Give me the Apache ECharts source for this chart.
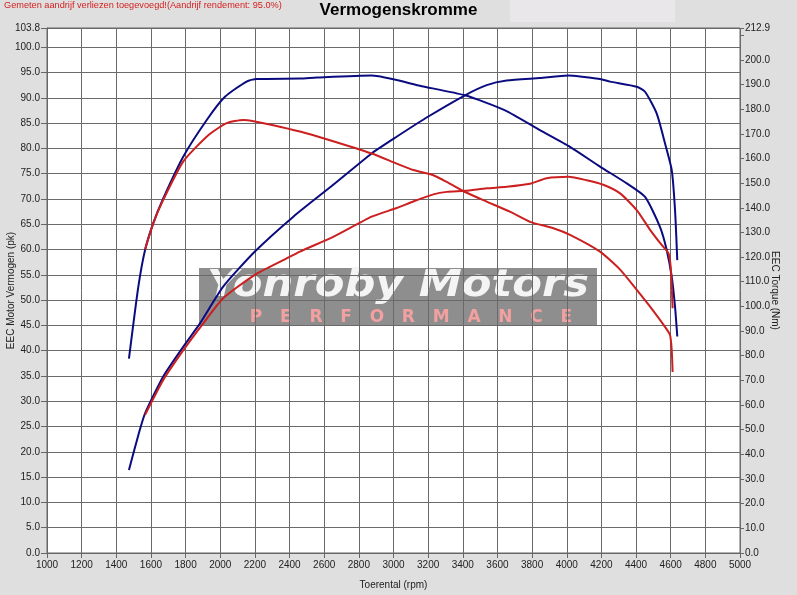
<!DOCTYPE html>
<html><head><meta charset="utf-8">
<script src="https://cdn.jsdelivr.net/npm/echarts@6/dist/echarts.min.js"></script>
<style>html,body{margin:0;padding:0;background:#dfdfdf}#c{width:797px;height:595px}</style>
</head><body><div id="c"></div>
<script>
// Blue torque (Nm, right axis)
const blueTorqueRpm = [1473,1527,1566,1613,1671,1787,1922,2027,2152,2210,2460,2557,2874,3163,3413,3644,3845,4019,4192,4346,4452,4538,4577,4606,4625,4638];
const blueTorqueNm  = [78.8,107.9,122.9,133.7,143.8,160.8,175.6,185.0,191.2,192.2,192.4,192.8,193.6,189.3,185.6,179.5,171.5,164.7,156.7,149.9,144.4,132.3,122.9,112.0,99.9,87.8];
// Blue power (pk, left axis)
const bluePowerRpm = [1473,1527,1566,1671,1787,1883,2018,2200,2422,2652,2874,3018,3201,3413,3538,3653,3845,4009,4192,4250,4404,4452,4519,4567,4606,4625,4638];
const bluePowerPk  = [16.4,23.3,27.6,34.9,40.8,45.4,52.7,59.6,66.5,72.8,79.0,82.3,86.3,90.5,92.5,93.4,93.9,94.4,93.7,93.2,92.2,91.2,86.9,81.0,75.7,67.8,57.9];
// Red torque (Nm, right axis)
const redTorqueRpm = [1566,1613,1671,1787,1931,2037,2133,2200,2306,2460,2614,2874,3018,3114,3230,3307,3413,3538,3672,3788,3923,4019,4192,4308,4404,4481,4567,4596,4606,4611];
const redTorqueNm  = [123.1,133.7,143.2,158.8,169.4,174.3,175.6,175.0,173.5,170.9,167.8,162.0,157.9,155.3,153.2,150.5,146.4,142.5,138.4,134.3,131.7,129.0,122.2,114.9,106.7,99.9,91.7,88.4,82.2,73.4];
// Red power (pk, left axis)
const redPowerRpm = [1566,1671,1787,1902,2018,2200,2364,2460,2652,2874,3018,3114,3230,3307,3413,3538,3653,3788,3884,4009,4115,4211,4308,4404,4481,4548,4587,4600,4606,4611];
const redPowerPk  = [27.3,34.2,40.1,45.4,50.4,55.0,57.9,59.6,62.5,66.5,68.2,69.5,70.9,71.4,71.6,72.1,72.4,73.0,74.1,74.4,73.7,72.8,71.1,67.8,63.9,60.9,59.3,56.6,52.7,48.4];

const xMin = 1000, xMax = 5000, xStep = 200;
const leftMax = 103.8, leftStep = 5;
const rightMax = 212.9, rightStep = 10;

const zip = (a, b) => a.map((v, i) => [v, b[i]]);
const BLUE = '#0b0b80', RED = '#cc1f1f';
const font = 'Liberation Sans, Arial, sans-serif';

const chart = echarts.init(document.getElementById('c'), null, {renderer: 'canvas'});
const lineSeries = (name, data, color, yIdx) => ({
  name, type: 'line', data, yAxisIndex: yIdx, showSymbol: false, symbol: 'none',
  smooth: 0.2, z: 5,
  lineStyle: {color, width: 2}
});
chart.setOption({
  backgroundColor: '#dfdfdf',
  animation: false,
  title: [{
    text: 'Vermogenskromme', left: 'center', top: 2, padding: 0,
    textStyle: {fontFamily: font, fontSize: 17, fontWeight: 'bold', color: '#000'}
  }, {
    text: 'Gemeten aandrijf verliezen toegevoegd!(Aandrijf rendement: 95.0%)', left: 4, top: 1, padding: 0,
    textStyle: {fontFamily: font, fontSize: 9.2, fontWeight: 'normal', color: '#d42020'}
  }],
  grid: {left: 47, right: 57, top: 28, bottom: 42, containLabel: false, outerBoundsMode: 'none',
    show: true, backgroundColor: '#fff', borderColor: '#666', borderWidth: 1},
  xAxis: {
    type: 'value', min: xMin, max: xMax, interval: xStep,
    name: 'Toerental (rpm)', nameLocation: 'middle', nameGap: 27, nameMoveOverlap: false,
    nameTextStyle: {fontFamily: font, fontSize: 10, color: '#222'},
    axisLine: {show: true, lineStyle: {color: '#666'}},
    axisTick: {show: true, length: 5, lineStyle: {color: '#666'}},
    axisLabel: {fontFamily: font, fontSize: 10, color: '#222', margin: 7, formatter: v => String(v)},
    splitLine: {show: true, lineStyle: {color: '#6a6a6a', width: 1}}
  },
  yAxis: [{
    type: 'value', min: 0, max: leftMax, interval: leftStep, position: 'left',
    name: 'EEC Motor Vermogen (pk)', nameLocation: 'middle', nameGap: 31, nameRotate: 90, nameMoveOverlap: false,
    nameTextStyle: {fontFamily: font, fontSize: 10, color: '#222'},
    axisLine: {show: true, lineStyle: {color: '#666'}},
    axisTick: {show: true, length: 6, lineStyle: {color: '#666'}},
    axisLabel: {fontFamily: font, fontSize: 10, color: '#222', margin: 7, showMaxLabel: true,
      formatter: v => v.toFixed(1)},
    splitLine: {show: true, lineStyle: {color: '#6a6a6a', width: 1}}
  }, {
    type: 'value', min: 0, max: rightMax, interval: rightStep, position: 'right',
    name: 'EEC Torque (Nm)', nameLocation: 'middle', nameGap: 30, nameRotate: -90, nameMoveOverlap: false,
    nameTextStyle: {fontFamily: font, fontSize: 10, color: '#222'},
    axisLine: {show: false},
    axisTick: {show: true, length: 4, lineStyle: {color: '#666'}},
    axisLabel: {fontFamily: font, fontSize: 10, color: '#222', margin: 5, showMaxLabel: true,
      formatter: v => (Math.abs(v - 210) < 0.01 ? '' : v.toFixed(1))},
    splitLine: {show: false}
  }],
  graphic: [
    {type: 'rect', x: 510, y: 0, shape: {width: 165, height: 22}, style: {fill: '#e9e7ea'}, z: -1},
    {type: 'group', x: 199, y: 268, z: 3, children: [
      {type: 'rect', shape: {x: 0, y: 0, width: 398, height: 58}, style: {fill: 'rgba(110,110,110,0.78)'}},
      {type: 'text', x: 199, y: 0, scaleX: 1.17, originX: 0, originY: 0,
        style: {text: 'Yonroby Motors', fill: '#f4f4f4',
        font: 'italic bold 37px "DejaVu Sans", sans-serif', textAlign: 'center', textVerticalAlign: 'top'}},
      {type: 'text', x: 212, y: 50, style: {text: 'P   E   R   F   O   R   M   A   N   C   E', fill: '#f2a0a0',
        font: 'bold 17px "DejaVu Sans", sans-serif', textAlign: 'center', textVerticalAlign: 'middle'}}
    ]}
  ],
  series: [
    lineSeries('Blue torque', zip(blueTorqueRpm, blueTorqueNm), BLUE, 1),
    lineSeries('Blue power', zip(bluePowerRpm, bluePowerPk), BLUE, 0),
    lineSeries('Red torque', zip(redTorqueRpm, redTorqueNm), RED, 1),
    lineSeries('Red power', zip(redPowerRpm, redPowerPk), RED, 0)
  ]
});
</script></body></html>
